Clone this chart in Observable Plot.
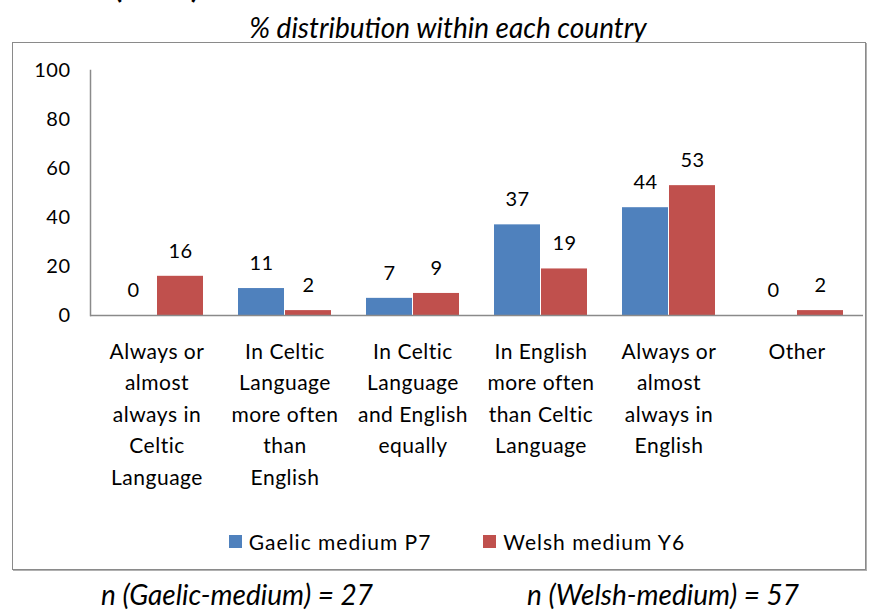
<!DOCTYPE html>
<html>
<head>
<meta charset="utf-8">
<script src="https://cdn.jsdelivr.net/npm/d3@7"></script>
<script src="https://cdn.jsdelivr.net/npm/@observablehq/plot@0.6"></script>
<style>
  html, body { margin: 0; padding: 0; background: #fff; }
  body { width: 873px; height: 611px; position: relative; overflow: hidden; font-family: Lato, "Open Sans", sans-serif; color: #000; }
  #cut { position: absolute; left: 0; top: 0; width: 873px; height: 4px; overflow: hidden; }
  #cut span { position: absolute; left: 114px; top: -29px; font-weight: bold; font-size: 30px; line-height: 1; letter-spacing: 22px; white-space: nowrap; }
  #subtitle { position: absolute; left: 0; width: 896px; top: 10px; text-align: center; font-style: italic; font-size: 28px; line-height: 34px; }
  #box { position: absolute; left: 12px; top: 42px; width: 852px; height: 526px; border: 1px solid #8a8a8a; box-shadow: 1px 1px 0 #b0b0b0; }
  #legendwrap { position: absolute; left: 36px; width: 816px; top: 486px; display: flex; justify-content: center; }
  .lg-swatches { margin: 0 !important; min-height: 0 !important; font-family: Lato, sans-serif !important; font-size: 21px !important; letter-spacing: 1px; }
  .lg-swatch { margin-right: 52px !important; }
  .lg-swatch:last-child { margin-right: 0 !important; }
  .lg-swatch svg { margin-right: 7px !important; }
  .n { position: absolute; top: 577px; font-style: italic; font-size: 28px; line-height: 34px; white-space: nowrap; transform: translateX(-50%); }
</style>
</head>
<body>
<div id="cut"><span>(%)</span></div>
<div id="subtitle">% distribution within each country</div>
<div id="box"><div id="chart"></div><div id="legendwrap"></div></div>
<div class="n" style="left:237px">n (Gaelic-medium) = 27</div>
<div class="n" style="left:663px">n (Welsh-medium) = 57</div>
<script>
const categories = [
  "Always or\nalmost\nalways in\nCeltic\nLanguage",
  "In Celtic\nLanguage\nmore often\nthan\nEnglish",
  "In Celtic\nLanguage\nand English\nequally",
  "In English\nmore often\nthan Celtic\nLanguage",
  "Always or\nalmost\nalways in\nEnglish",
  "Other"
];
const seriesNames = ["Gaelic medium P7", "Welsh medium Y6"];
const gaelicValues = [0, 11, 7, 37, 44, 0];
const welshValues = [16, 2, 9, 19, 53, 2];
const yTicks = [0, 20, 40, 60, 80, 100];
const colors = ["#4F81BD", "#C0504D"];

const gaelic = categories.map((c, i) => ({cat: c, series: seriesNames[0], value: gaelicValues[i]}));
const welsh = categories.map((c, i) => ({cat: c, series: seriesNames[1], value: welshValues[i]}));

const W = 852, H = 460;
const half = 47;
const chart = Plot.plot({
  width: W,
  height: H,
  marginLeft: 77,
  marginRight: 2,
  marginTop: 27,
  marginBottom: 188,
  style: {fontFamily: "Lato, sans-serif", background: "transparent", overflow: "visible"},
  x: {domain: categories, paddingInner: 0.27, paddingOuter: 0.135},
  y: {domain: [0, 100]},
  color: {domain: seriesNames, range: colors},
  marks: [
    Plot.barY(gaelic, {x: "cat", y: "value", fill: "series", insetRight: half}),
    Plot.barY(welsh, {x: "cat", y: "value", fill: "series", insetLeft: half}),
    Plot.ruleY([0], {stroke: "#8a8a8a", strokeWidth: 1.5}),
    Plot.frame({anchor: "left", stroke: "#8a8a8a", strokeWidth: 1.5}),
    Plot.text(gaelic, {x: "cat", y: "value", text: d => String(d.value), dx: -half / 2, dy: -25, fontSize: 20, fill: "#000"}),
    Plot.text(welsh, {x: "cat", y: "value", text: d => String(d.value), dx: half / 2, dy: -25, fontSize: 20, fill: "#000"}),
    Plot.axisY({ticks: yTicks, tickSize: 0, tickPadding: 20, fontSize: 20, tickFormat: d => String(d), fill: "#000", label: null}),
    Plot.axisX({tickSize: 0, tickPadding: 21, fontSize: 21, lineHeight: 1.5, tickFormat: d => d, fill: "#000", label: null})
  ]
});
d3.select(chart).selectAll("text").style("letter-spacing", "0.5px");
document.getElementById("chart").appendChild(chart);

const legend = Plot.legend({
  color: {domain: seriesNames, range: colors},
  legend: "swatches",
  swatchSize: 13,
  className: "lg"
});
document.getElementById("legendwrap").appendChild(legend);
</script>
</body>
</html>
